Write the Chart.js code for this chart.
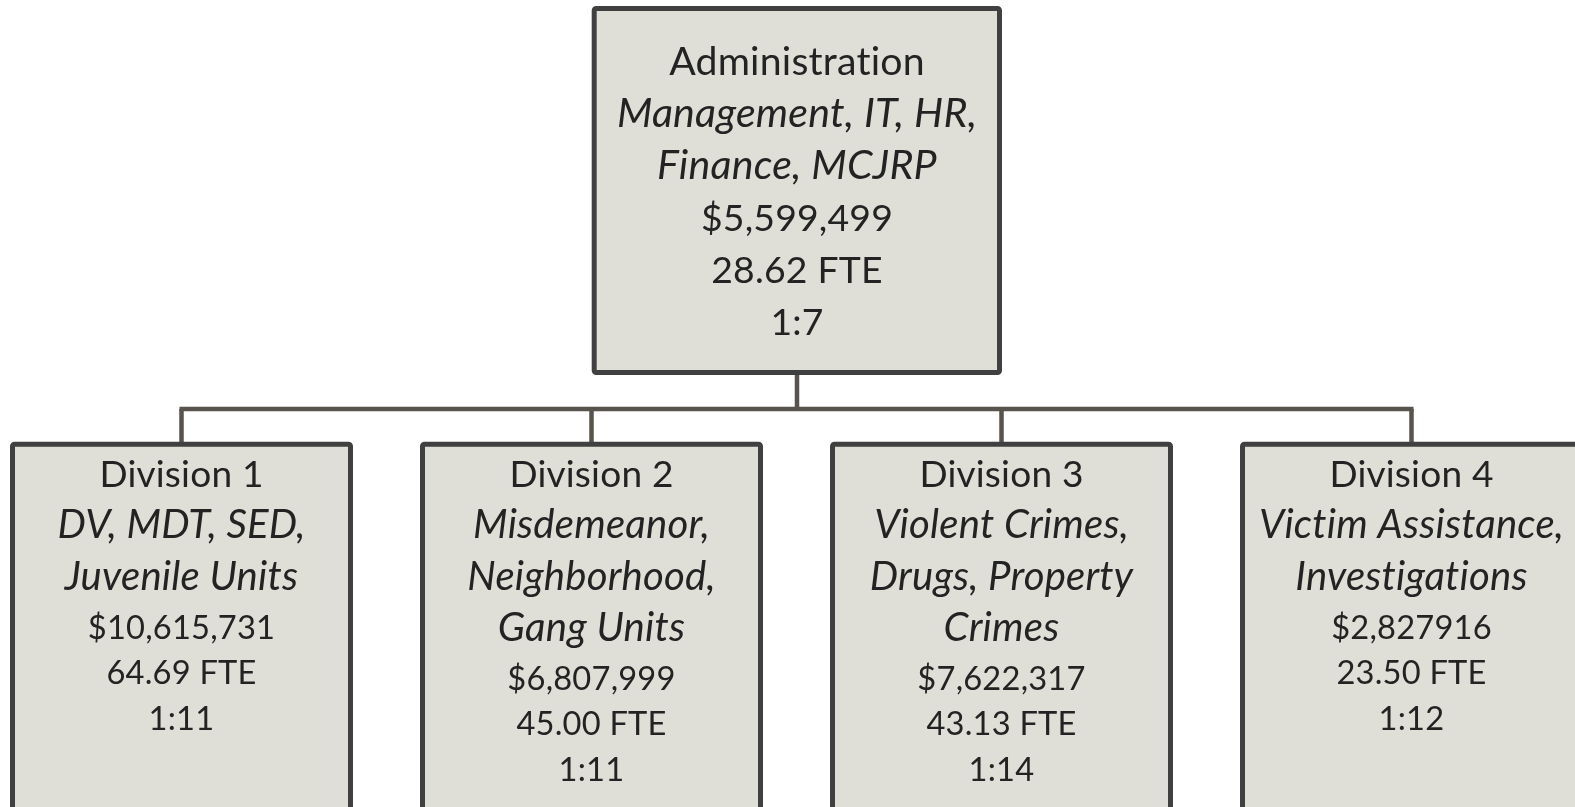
<!DOCTYPE html>
<html>
<head>
<meta charset="utf-8">
<script src="https://cdn.jsdelivr.net/npm/chart.js@4.4.1/dist/chart.umd.min.js"></script>
<style>
html,body{margin:0;padding:0;background:#ffffff;overflow:hidden;}
canvas{display:block;}
</style>
</head>
<body>
<canvas id="c" width="1575" height="807"></canvas>
<script>
// ---- data ----
const units = ['Administration', 'Division 1', 'Division 2', 'Division 3', 'Division 4'];
const descriptions = [
  ['Management, IT, HR,', 'Finance, MCJRP'],
  ['DV, MDT, SED,', 'Juvenile Units'],
  ['Misdemeanor,', 'Neighborhood,', 'Gang Units'],
  ['Violent Crimes,', 'Drugs, Property', 'Crimes'],
  ['Victim Assistance,', 'Investigations']
];
const budgets = ['$5,599,499', '$10,615,731', '$6,807,999', '$7,622,317', '$2,827916'];
const fte = ['28.62 FTE', '64.69 FTE', '45.00 FTE', '43.13 FTE', '23.50 FTE'];
const ratios = ['1:7', '1:11', '1:11', '1:14', '1:12'];
const parent = [null, 0, 0, 0, 0];

// ---- layout (box centres / edges in chart units) ----
const boxLayout = [
  {cx: 797,    x0: 594.2,  x1: 999.5,  y0: 8.5,   y1: 372.5, top: true},
  {cx: 181.5,  x0: 12.5,   x1: 350.5,  y0: 444.2, y1: 830},
  {cx: 591.5,  x0: 422.5,  x1: 760.5,  y0: 444.2, y1: 830},
  {cx: 1001.5, x0: 832.5,  x1: 1170.5, y0: 444.2, y1: 830},
  {cx: 1411.5, x0: 1242.5, x1: 1580.5, y0: 444.2, y1: 830}
];
const busY = 409;

const FILL = '#dfdfd7', BORDER = '#404040', LINE = '#58534c', TEXT = '#232323';
const FAMILY = 'Lato, "Open Sans", sans-serif';
const SPACING = '0.2px'; // non-zero spacing keeps "ti" etc. from forming ligatures

// connector datasets built from the tree
const connectorSets = [];
const rootL = boxLayout[0];
connectorSets.push([{x: rootL.cx, y: rootL.y1}, {x: rootL.cx, y: busY}]);
const childX = boxLayout.filter((b, i) => parent[i] === 0).map(b => b.cx);
connectorSets.push([{x: Math.min(...childX) - 2, y: busY}, {x: Math.max(...childX) + 2, y: busY}]);
boxLayout.forEach((b, i) => {
  if (parent[i] === 0) connectorSets.push([{x: b.cx, y: busY}, {x: b.cx, y: b.y0}]);
});

// font fitting helper
const mctx = document.createElement('canvas').getContext('2d');
if ('letterSpacing' in mctx) mctx.letterSpacing = SPACING;
function fit(style, ref, target) {
  mctx.font = style + ' normal 100px ' + FAMILY;
  const w = mctx.measureText(ref).width;
  return 100 * target / w;
}
const fTopReg = fit('normal', 'Administration', 254);
const fTopIt = fit('italic', 'Management, IT, HR,', 358);
const fTopNum = fit('normal', '$5,599,499', 191);
const fBotTitle = fit('normal', 'Division 3', 163);
const fBotIt = fit('italic', 'Victim Assistance,', 303);
const fBotNum = fit('normal', '$7,622,317', 167);

const orgPlugin = {
  id: 'org',
  afterDatasetsDraw(chart) {
    const ctx = chart.ctx;
    const xs = chart.scales.x, ys = chart.scales.y;
    ctx.save();
    if ('letterSpacing' in ctx) ctx.letterSpacing = SPACING;
    boxLayout.forEach((b, i) => {
      const x0 = xs.getPixelForValue(b.x0), x1 = xs.getPixelForValue(b.x1);
      const y0 = ys.getPixelForValue(b.y0), y1 = ys.getPixelForValue(b.y1);
      ctx.beginPath();
      ctx.roundRect(x0, y0, x1 - x0, y1 - y0, 2);
      ctx.fillStyle = FILL;
      ctx.fill();
      ctx.lineWidth = 5;
      ctx.strokeStyle = BORDER;
      ctx.lineJoin = 'round';
      ctx.stroke();

      // text
      ctx.fillStyle = TEXT;
      ctx.textAlign = 'center';
      ctx.textBaseline = 'alphabetic';
      const cx = xs.getPixelForValue(b.cx);
      const lines = [];
      let y;
      if (b.top) {
        lines.push({t: units[i], f: 'normal normal ' + fTopReg + 'px ' + FAMILY, gap: 0});
        descriptions[i].forEach(d => lines.push({t: d, f: 'italic normal ' + fTopIt + 'px ' + FAMILY, gap: 51.9}));
        lines.push({t: budgets[i], f: 'normal normal ' + fTopNum + 'px ' + FAMILY, gap: 51.9});
        lines.push({t: fte[i], f: 'normal normal ' + fTopNum + 'px ' + FAMILY, gap: 52.5});
        lines.push({t: ratios[i], f: 'normal normal ' + fTopNum + 'px ' + FAMILY, gap: 52});
        y = 75;
      } else {
        lines.push({t: units[i], f: 'normal normal ' + fBotTitle + 'px ' + FAMILY, gap: 0});
        descriptions[i].forEach(d => lines.push({t: d, f: 'italic normal ' + fBotIt + 'px ' + FAMILY, gap: 51.3}));
        lines.push({t: budgets[i], f: 'normal normal ' + fBotNum + 'px ' + FAMILY, gap: 49});
        lines.push({t: fte[i], f: 'normal normal ' + fBotNum + 'px ' + FAMILY, gap: 45.5});
        lines.push({t: ratios[i], f: 'normal normal ' + fBotNum + 'px ' + FAMILY, gap: 45.5});
        y = 487;
      }
      lines.forEach(l => {
        y += l.gap;
        ctx.font = l.f;
        ctx.fillText(l.t, cx, ys.getPixelForValue(y));
      });
    });
    ctx.restore();
  }
};

new Chart(document.getElementById('c'), {
  type: 'scatter',
  data: {
    datasets: connectorSets.map(pts => ({
      data: pts,
      showLine: true,
      borderColor: LINE,
      borderWidth: 4.5,
      pointRadius: 0,
      borderCapStyle: 'butt'
    }))
  },
  options: {
    responsive: false,
    devicePixelRatio: 1,
    animation: false,
    layout: {padding: 0},
    plugins: {legend: {display: false}, tooltip: {enabled: false}},
    scales: {
      x: {type: 'linear', min: 0, max: 1575, display: false},
      y: {type: 'linear', min: 0, max: 807, reverse: true, display: false}
    }
  },
  plugins: [orgPlugin]
});
</script>
</body>
</html>
